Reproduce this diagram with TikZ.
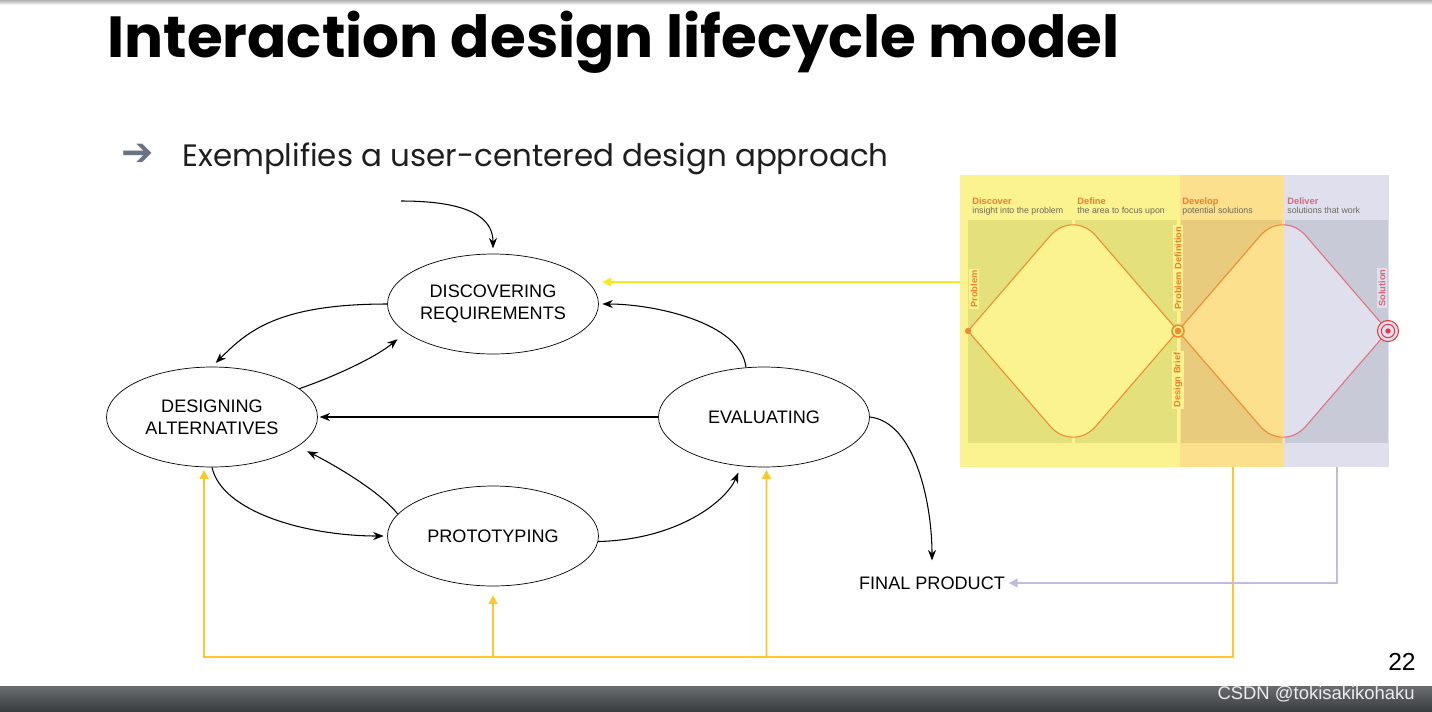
\documentclass[tikz,border=0pt]{standalone}
\usepackage{fontspec}
\setsansfont{Liberation Sans}
\newfontfamily\titlefont{Poppins}
\newfontfamily\symfont{DejaVu Sans}
\usetikzlibrary{arrows.meta,shapes.geometric,positioning}

\definecolor{ddyel}{HTML}{FBF38F}
\definecolor{ddyeldk}{HTML}{E4E07C}
\definecolor{ddorg}{HTML}{FDE08D}
\definecolor{ddorgdk}{HTML}{E8CB7C}
\definecolor{ddlav}{HTML}{E0DFED}
\definecolor{ddlavdk}{HTML}{C9CAD8}
\definecolor{ddline}{HTML}{F08A2E}
\definecolor{ddpinkline}{HTML}{E0707F}
\definecolor{ddtarget}{HTML}{E63946}
\definecolor{ddorgtxt}{HTML}{F07E2C}
\definecolor{ddpinktxt}{HTML}{D9657A}
\definecolor{hintgray}{HTML}{6B6A58}
\definecolor{linkyel}{HTML}{FFE71A}
\definecolor{feedgold}{HTML}{FFC72C}
\definecolor{backlav}{HTML}{BFBCDD}
\definecolor{bulletgray}{HTML}{6B7380}
\definecolor{barTop}{HTML}{6A6D70}
\definecolor{barBot}{HTML}{3B3E41}
\definecolor{leadtext}{HTML}{1E1E1E}

\newcommand\leftdd{(968,331) -- (1050,236) .. controls (1062.7,221.1) and (1083.3,221.1) .. (1096,236) -- (1178,331) -- (1096,426) .. controls (1083.3,440.9) and (1062.7,440.9) .. (1050,426) -- cycle}
\newcommand\rightdd{(1178,331) -- (1260,236) .. controls (1272.7,221.1) and (1293.3,221.1) .. (1306,236) -- (1388,331) -- (1306,426) .. controls (1293.3,440.9) and (1272.7,440.9) .. (1260,426) -- cycle}

\begin{document}
\begin{tikzpicture}[x=0.02cm, y=-0.02cm,
  stage/.style={draw, ellipse, inner sep=0pt, minimum width=4.22cm, minimum height=2cm, align=center, font=\sffamily\fontsize{10.3}{12.3}\selectfont},
  flow/.style={-{Stealth[length=6pt,width=4.6pt,inset=2pt]}, line width=0.6pt, shorten >=2pt},
  feed/.style={-{Triangle[length=5pt,width=5pt]}, draw=feedgold, line width=1.1pt},
  link/.style={-{Triangle[length=5pt,width=5pt]}, draw=linkyel, line width=0.9pt},
  back/.style={-{Triangle[length=5pt,width=5pt]}, draw=backlav, line width=0.9pt},
  tag/.style={rotate=90, inner sep=1pt, font=\sffamily\bfseries\fontsize{5.3}{6}\selectfont},
  phase/.style={anchor=base west, inner sep=0pt, font=\sffamily\bfseries\fontsize{5.3}{6}\selectfont},
  hint/.style={anchor=base west, inner sep=0pt, text=hintgray, font=\sffamily\fontsize{5}{6}\selectfont}
]
\useasboundingbox (0,0) rectangle (1432,711);
\fill[white] (0,0) rectangle (1432,711);
\shade[top color=black!30, bottom color=white] (0,0) rectangle (1432,5);
\shade[top color=barTop, bottom color=barBot] (0,686) rectangle (1432,711);

% heading
\node[anchor=base west, inner sep=0pt, font=\titlefont\bfseries\fontsize{33}{40}\selectfont] (title) at (107,57) {Interaction design lifecycle model};
\node[inner sep=0pt, text=bulletgray, font=\symfont\bfseries\fontsize{22}{22}\selectfont] (bullet) at (138,155) {➔};
\node[anchor=base west, inner sep=0pt, text=leadtext, font=\titlefont\fontsize{17.6}{20}\selectfont] (lead) at (182,166) {Exemplifies a user-centered design approach};

% double diamond
\fill[ddyel] (960,175) rectangle (1180,467);
\fill[ddorg] (1180,175) rectangle (1284,467);
\fill[ddlav] (1284,175) rectangle (1389,467);
\fill[ddyeldk] (968,220) rectangle (1072,443);
\fill[ddyeldk] (1075,220) rectangle (1177,443);
\fill[ddorgdk] (1181,220) rectangle (1282,443);
\fill[ddlavdk] (1285,220) rectangle (1388,443);
\fill[ddyel] \leftdd;
\begin{scope}
  \clip (1180,170) rectangle (1284,470);
  \fill[ddorg] \rightdd;
  \draw[ddline, line width=0.6pt] \rightdd;
\end{scope}
\begin{scope}
  \clip (1284,170) rectangle (1400,470);
  \fill[ddlav] \rightdd;
  \draw[ddpinkline, line width=0.6pt] \rightdd;
\end{scope}
\draw[ddline, line width=0.6pt] \leftdd;
\fill[ddline] (968,331) circle (1.8pt);
\draw[ddline, line width=0.9pt, fill=ddyel] (1178,331) circle (3.4pt);
\fill[ddline] (1178,331) circle (1.9pt);
\draw[ddtarget, line width=0.6pt, fill=ddlav] (1388,331) circle (6pt);
\draw[ddtarget, line width=0.6pt] (1388,331) circle (3.8pt);
\fill[ddtarget] (1388,331) circle (1.5pt);

\node[tag, fill=ddyel, text=ddorgtxt] (problem) at (974,289) {Problem};
\node[tag, fill=ddyel, text=ddorgtxt] (probdef) at (1178,268) {Problem Definition};
\node[tag, fill=ddyel, text=ddorgtxt] (brief) at (1178,380) {Design Brief};
\node[tag, fill=ddlav, text=ddpinktxt] (solution) at (1382,288) {Solution};

\node[phase, text=ddorgtxt] (discover) at (972,204) {Discover};
\node[hint] (discoverhint) at (972,213) {insight into the problem};
\node[phase, text=ddorgtxt] (define) at (1077,204) {Define};
\node[hint] (definehint) at (1077,213) {the area to focus upon};
\node[phase, text=ddorgtxt] (develop) at (1182,204) {Develop};
\node[hint] (develophint) at (1182,213) {potential solutions};
\node[phase, text=ddpinktxt] (deliver) at (1287,204) {Deliver};
\node[hint] (deliverhint) at (1287,213) {solutions that work};

% lifecycle
\node[stage] (disc) at (493,304) {DISCOVERING\\REQUIREMENTS};
\node[stage] (des) at (212,417) {DESIGNING\\ALTERNATIVES};
\node[stage] (eval) at (764,417) {EVALUATING};
\node[stage] (proto) at (493,536) {PROTOTYPING};
\node[inner sep=2pt, font=\sffamily\fontsize{10.3}{12}\selectfont] (final) at (932,583) {FINAL PRODUCT};

\coordinate (entry) at (401,201);
\draw[flow, shorten >=3pt] (entry) .. controls +(70,0) and +(0,-35) .. (disc.north);
\draw[flow, shorten >=3pt] (disc.west) .. controls +(-110,0) and +(35,-35) .. (des.north);
\draw[flow, shorten >=6pt] (des.18) .. controls +(35,-12) and +(-30,25) .. (disc.198);
\draw[flow, shorten >=1pt] (eval.west) -- (des.east);
\draw[flow, shorten >=6pt] (proto.167) .. controls +(-20,-25) and +(30,15) .. (des.-19);
\draw[flow] (des.south) .. controls +(10,45) and +(-80,0) .. (proto.west);
\draw[flow, shorten >=4pt] (proto.-3) .. controls +(80,-2) and +(-15,35) .. (eval.245);
\draw[flow] (eval.110) .. controls +(-5,-45) and +(55,0) .. (disc.east);
\draw[flow, shorten >=7pt] (eval.east) .. controls +(45,5) and +(0,-70) .. (final.north);

\coordinate (ddport) at (960,282);
\draw[link, shorten >=2pt] (ddport) -- (ddport -| disc.east);
\coordinate (devport) at (1233,467);
\coordinate (bus) at (1233,657);
\draw[feed, shorten >=1.5pt] (devport) -- (bus) -| ([xshift=-4.5pt]des.south);
\draw[feed, shorten >=5pt] (bus -| proto.south) -- (proto.south);
\draw[feed, shorten >=1.5pt] (bus -| eval.south) ++(2.5,0) -- ([xshift=1.4pt]eval.south);
\coordinate (delport) at (1337,467);
\draw[back] (delport) |- (final.east);

% footer
\node[anchor=base east, inner sep=0pt, font=\sffamily\fontsize{14}{14}\selectfont] (pageno) at (1416,670) {22};
\node[anchor=base east, inner sep=0pt, text=gray!15, font=\sffamily\fontsize{10.5}{12}\selectfont] (mark) at (1415,699) {CSDN @tokisakikohaku};
\end{tikzpicture}
\end{document}
